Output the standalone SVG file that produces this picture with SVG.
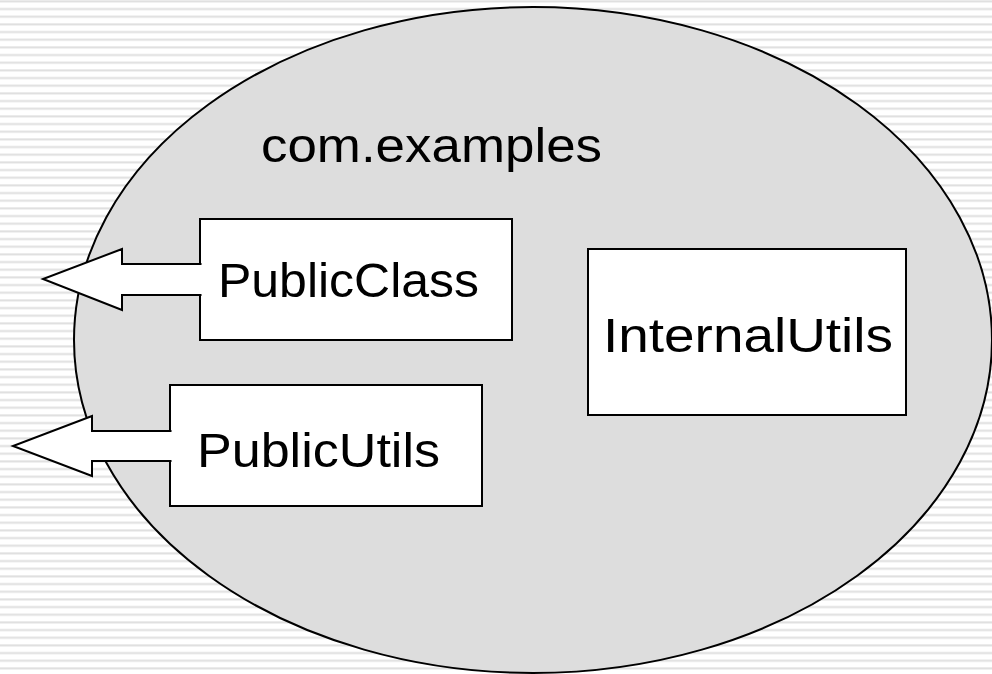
<svg xmlns="http://www.w3.org/2000/svg" width="992" height="674" viewBox="0 0 992 674">
  <defs>
    <!-- ruled-paper backdrop -->
    <pattern id="rules" x="0" y="0" width="992" height="7.667" patternUnits="userSpaceOnUse">
      <rect x="0" y="0" width="992" height="7.667" fill="#ffffff"/>
      <rect x="0" y="0" width="992" height="0.6" fill="#ececec"/>
      <rect x="0" y="0.6" width="992" height="1.6" fill="#dfdfdf"/>
      <rect x="0" y="2.2" width="992" height="0.6" fill="#ececec"/>
    </pattern>
    <style>
      .pkg { fill: #dddddd; stroke: #000; stroke-width: 2; }
      .box { fill: #ffffff; stroke: #000; stroke-width: 2; }
      .arrow { fill: #ffffff; stroke: #000; stroke-width: 2; stroke-linejoin: miter; }
      .lbl { font-family: "Liberation Sans", Arial, sans-serif; font-size: 48px; fill: #000; }
    </style>
  </defs>

  <rect x="0" y="0" width="992" height="674" fill="url(#rules)"/>

  <!-- package boundary -->
  <g id="package">
    <ellipse class="pkg" cx="533" cy="340" rx="459" ry="333"/>
    <text class="lbl" x="261" y="162" textLength="341" lengthAdjust="spacingAndGlyphs">com.examples</text>
  </g>

  <g id="PublicClass">
    <rect class="box" x="200" y="219" width="312" height="121"/>
    <text class="lbl" x="218" y="297" textLength="261" lengthAdjust="spacingAndGlyphs">PublicClass</text>
  </g>

  <g id="PublicUtils">
    <rect class="box" x="170" y="385" width="312" height="121"/>
    <text class="lbl" x="197" y="467" textLength="243" lengthAdjust="spacingAndGlyphs">PublicUtils</text>
  </g>

  <g id="InternalUtils">
    <rect class="box" x="588" y="249" width="318" height="166"/>
    <text class="lbl" x="603" y="352" textLength="290" lengthAdjust="spacingAndGlyphs">InternalUtils</text>
  </g>

  <!-- export arrows leaving the public classes -->
  <g id="connectors">
    <path class="arrow" d="M201.5,264 H122 V249 L43,279 L122,310 V295 H201.5"/>
    <path class="arrow" d="M171.5,431 H92 V416 L13,446 L92,476 V461 H171.5"/>
  </g>
</svg>
